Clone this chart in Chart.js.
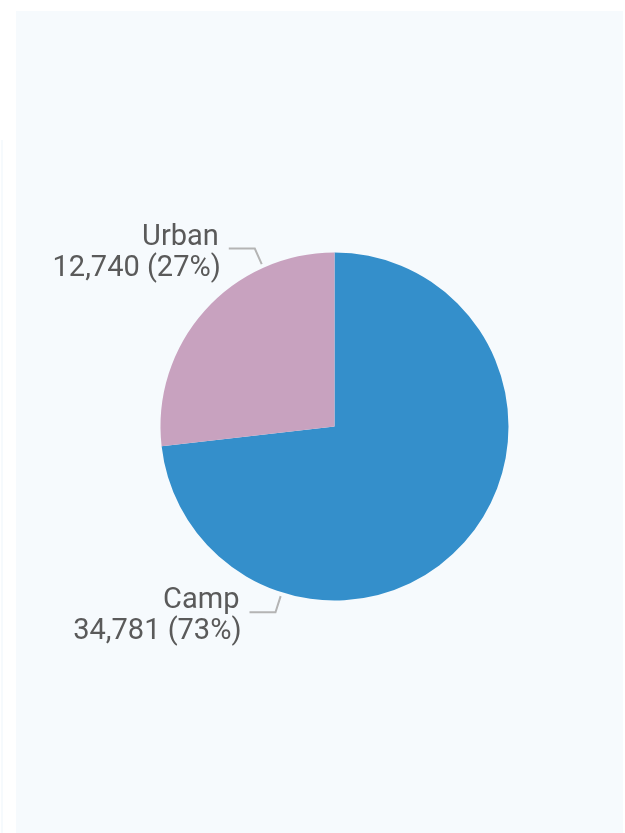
<!DOCTYPE html>
<html>
<head>
<meta charset="utf-8">
<script src="https://cdn.jsdelivr.net/npm/chart.js@4"></script>
<style>
  html, body { margin: 0; padding: 0; background: #ffffff; width: 625px; height: 833px; overflow: hidden; }
  #edge { position: absolute; left: 1px; top: 140px; width: 2px; bottom: 0; background: #f6fafd; }
  #panel { position: absolute; left: 16px; top: 11px; width: 607px; height: 822px; background: #f6fafd; }
</style>
</head>
<body>
<div id="edge"></div>
<div id="panel"><canvas id="pie" width="607" height="822"></canvas></div>
<script>
// données du graphique
const categories = ['Camp', 'Urban'];
const valeurs = [34781, 12740];
const couleurs = ['#348fcb', '#c8a2bf'];

const total = valeurs.reduce((a, b) => a + b, 0);

// étiquettes extérieures avec trait de rappel
const etiquettesPlugin = {
    id: 'etiquettes',
    afterDatasetsDraw(chart) {
        const ctx = chart.ctx;
        const arcs = chart.getDatasetMeta(0).data;
        ctx.save();
        arcs.forEach((arc, i) => {
            const p = arc.getProps(['x', 'y', 'startAngle', 'endAngle', 'outerRadius'], true);
            const ang = p.startAngle + 0.75 * (p.endAngle - p.startAngle);
            const cos = Math.cos(ang), sin = Math.sin(ang);
            const x1 = p.x + (p.outerRadius + 4) * cos, y1 = p.y + (p.outerRadius + 4) * sin;
            const x2 = p.x + (p.outerRadius + 21) * cos, y2 = p.y + (p.outerRadius + 21) * sin;
            const x3 = x2 - 26;
            ctx.strokeStyle = '#b4b4b4';
            ctx.lineWidth = 2;
            ctx.beginPath();
            ctx.moveTo(x1, y1);
            ctx.lineTo(x2, y2);
            ctx.lineTo(x3, y2);
            ctx.stroke();

            const pct = Math.round(valeurs[i] / total * 100);
            ctx.fillStyle = '#5a5a5a';
            ctx.font = '29px Roboto';
            ctx.textAlign = 'right';
            ctx.textBaseline = 'alphabetic';
            ctx.fillText(categories[i], x3 - 10, y2 - 4);
            ctx.fillText(valeurs[i].toLocaleString('en-US') + ' (' + pct + '%)', x3 - 8, y2 + 27);
        });
        ctx.restore();
    }
};

const ctx = document.getElementById('pie').getContext('2d');
new Chart(ctx, {
    type: 'pie',
    data: {
        labels: categories,
        datasets: [{
            data: valeurs,
            backgroundColor: couleurs,
            borderWidth: 0
        }]
    },
    options: {
        responsive: false,
        animation: false,
        layout: { padding: { left: 144.5, right: 114.5, top: 241.5, bottom: 232.5 } },
        plugins: {
            legend: { display: false },
            tooltip: { enabled: false }
        }
    },
    plugins: [etiquettesPlugin]
});
</script>
</body>
</html>
